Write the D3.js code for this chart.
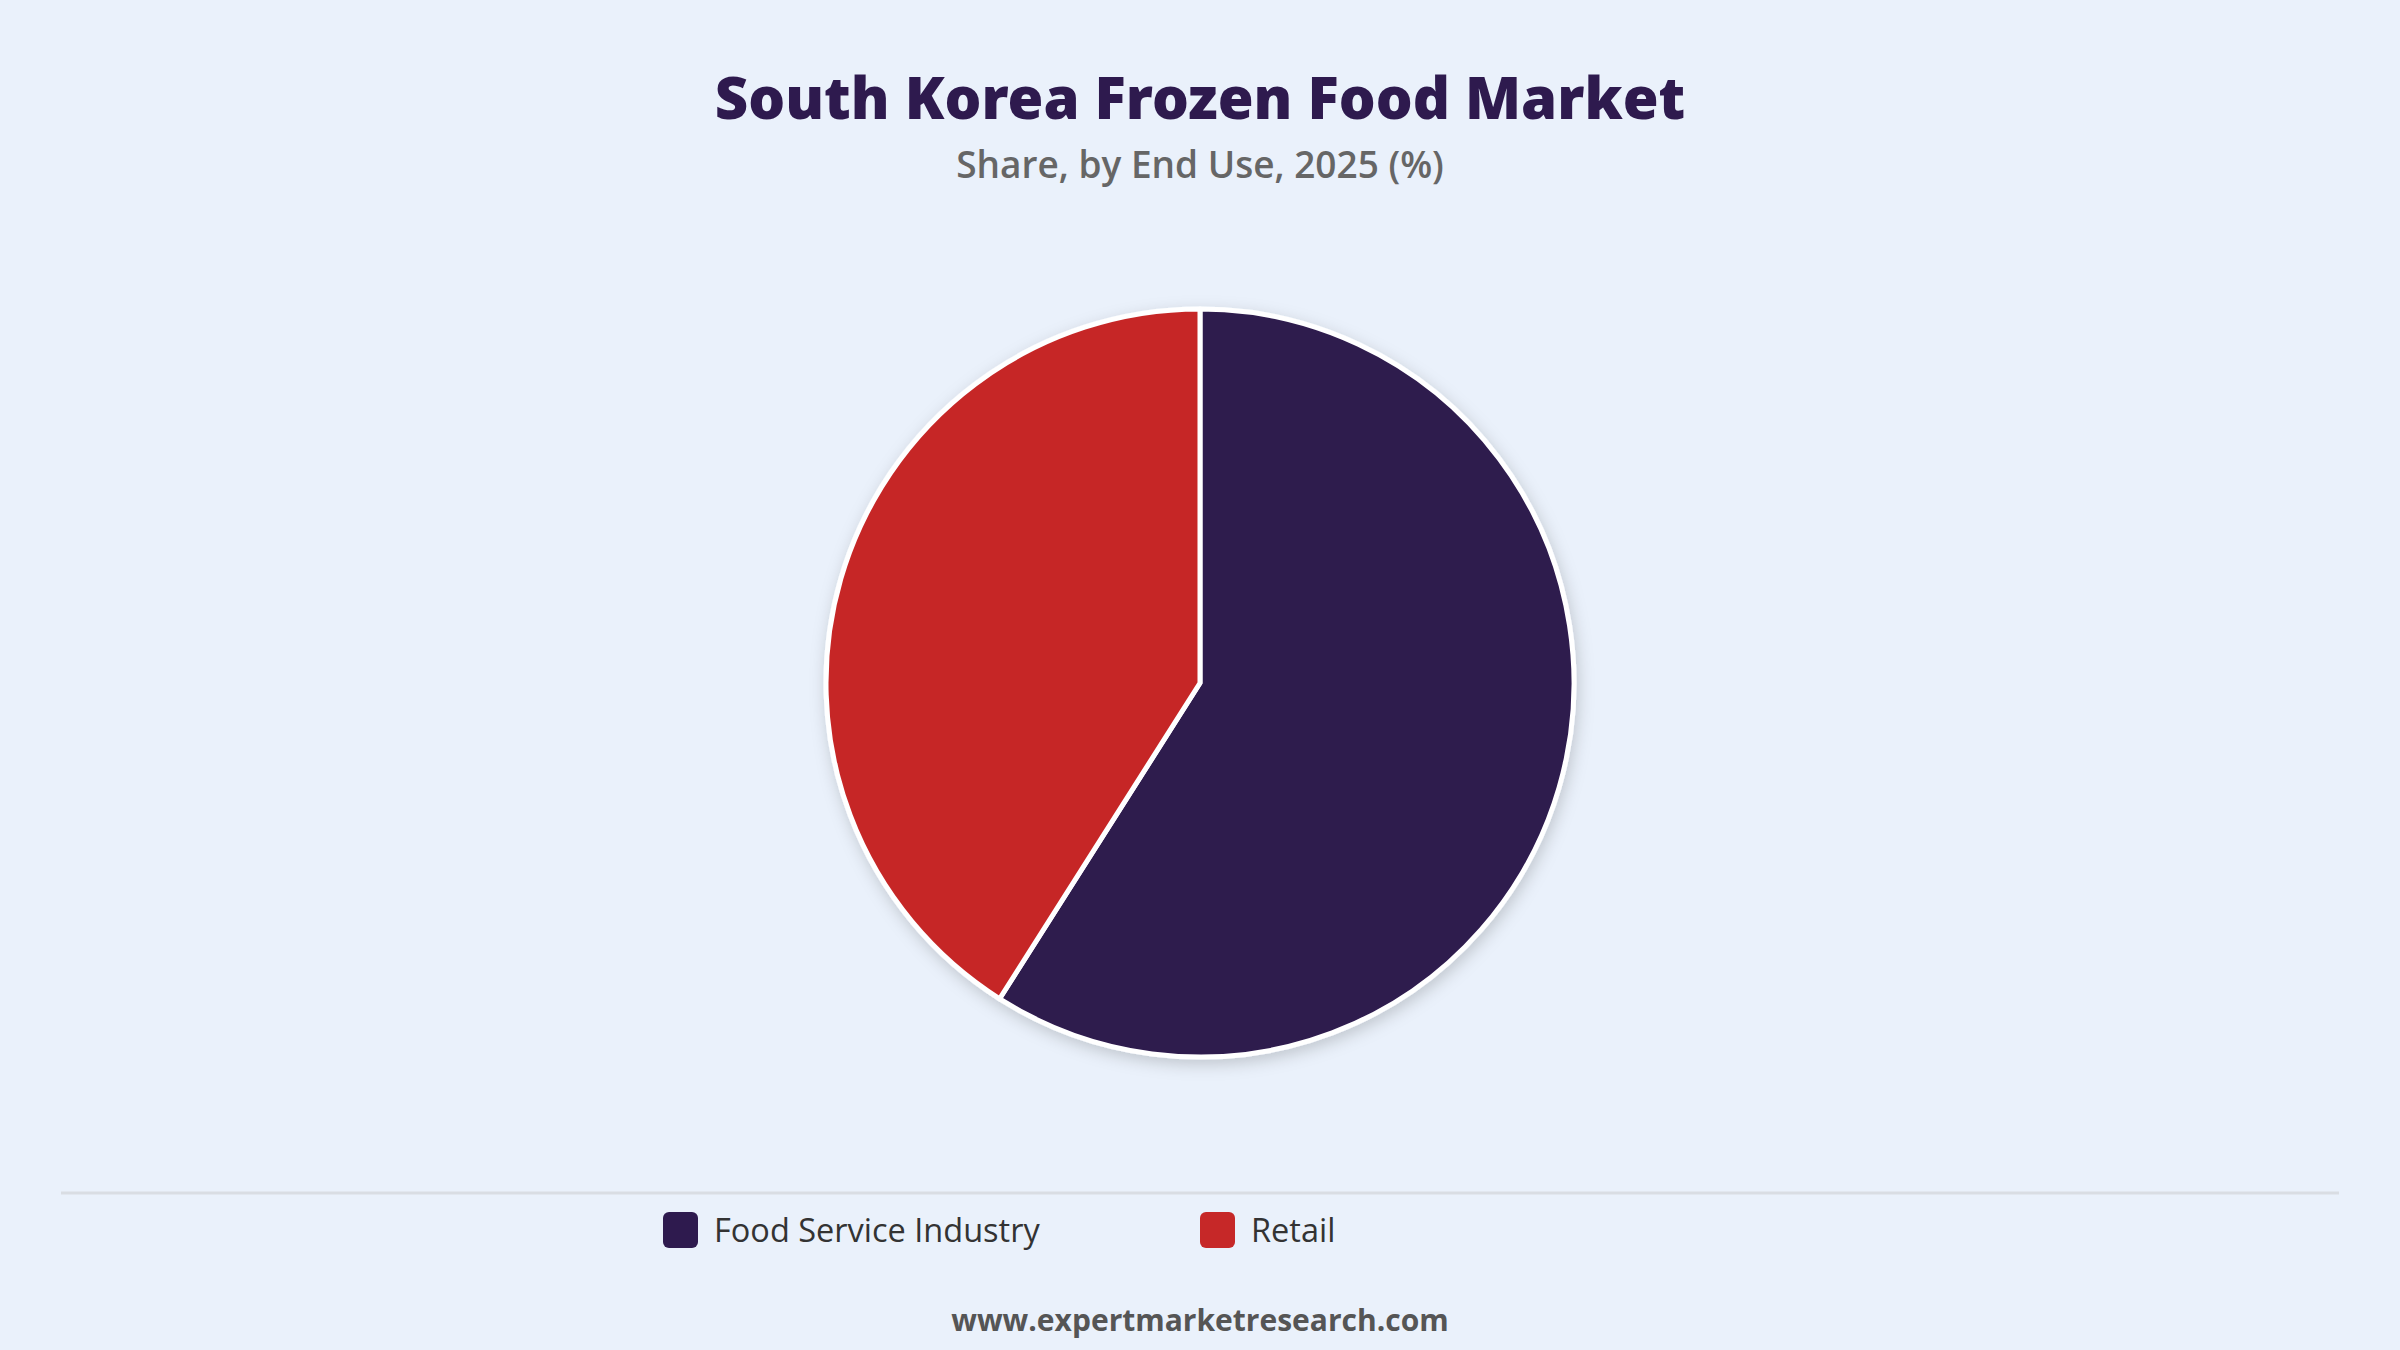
<!DOCTYPE html>
<html>
<head>
<meta charset="utf-8">
<script src="https://cdn.jsdelivr.net/npm/d3@7"></script>
<style>
  html, body { margin: 0; padding: 0; background: #eaf1fb; }
  svg { display: block; }
</style>
</head>
<body>
<div id="chart"></div>
<script>
// chart data
const categories = ['Food Service Industry', 'Retail'];
const shares = [59, 41];
const colours = ['#2e1a4e', '#c62828'];

const title = 'South Korea Frozen Food Market';
const subtitle = 'Share, by End Use, 2025 (%)';
const source = 'www.expertmarketresearch.com';

const width = 2400, height = 1350;

const svg = d3.select('#chart')
  .append('svg')
  .attr('width', width)
  .attr('height', height);

svg.append('rect')
  .attr('width', width)
  .attr('height', height)
  .attr('fill', '#eaf1fb');

// soft shadow under the pie
const defs = svg.append('defs');
defs.append('filter')
  .attr('id', 'pie-shadow')
  .attr('x', '-20%').attr('y', '-20%')
  .attr('width', '140%').attr('height', '140%')
  .append('feDropShadow')
  .attr('dx', 2)
  .attr('dy', 5)
  .attr('stdDeviation', 8)
  .attr('flood-color', '#000')
  .attr('flood-opacity', 0.18);

// titles
svg.append('text')
  .attr('x', width / 2)
  .attr('y', 119)
  .attr('text-anchor', 'middle')
  .style('font-family', '"Noto Sans", Lato, sans-serif')
  .style('font-weight', 900)
  .style('font-size', '58px')
  .style('fill', '#2e1a4e')
  .text(title);

svg.append('text')
  .attr('x', width / 2)
  .attr('y', 178)
  .attr('text-anchor', 'middle')
  .style('font-family', '"Open Sans", "Noto Sans", sans-serif')
  .style('font-weight', 600)
  .style('font-size', '37px')
  .style('fill', '#666666')
  .text(subtitle);

// pie
const cx = 1200, cy = 683, radius = 374;

const pie = d3.pie()
  .sort(null)
  .value(d => d);

const arc = d3.arc()
  .innerRadius(0)
  .outerRadius(radius);

const pieGroup = svg.append('g')
  .attr('transform', `translate(${cx},${cy})`)
  .attr('filter', 'url(#pie-shadow)');

pieGroup.selectAll('path')
  .data(pie(shares))
  .enter()
  .append('path')
  .attr('d', arc)
  .attr('fill', (d, i) => colours[i])
  .attr('stroke', '#ffffff')
  .attr('stroke-width', 5)
  .attr('stroke-linejoin', 'round');

// divider above legend
svg.append('line')
  .attr('x1', 61).attr('x2', 2339)
  .attr('y1', 1193).attr('y2', 1193)
  .attr('stroke', '#d9dde3')
  .attr('stroke-width', 3);

// legend
const legendX = [663, 1200];
const legend = svg.append('g');

const item = legend.selectAll('g')
  .data(categories)
  .enter()
  .append('g')
  .attr('transform', (d, i) => `translate(${legendX[i]},1212)`);

item.append('rect')
  .attr('width', 35)
  .attr('height', 36)
  .attr('rx', 6)
  .attr('fill', (d, i) => colours[i]);

item.append('text')
  .attr('x', 51)
  .attr('y', 30)
  .style('font-family', '"Open Sans", "Noto Sans", sans-serif')
  .style('font-size', '32.5px')
  .style('fill', '#333333')
  .text(d => d);

// source line
svg.append('text')
  .attr('x', width / 2)
  .attr('y', 1331)
  .attr('text-anchor', 'middle')
  .style('font-family', '"Open Sans", "Noto Sans", sans-serif')
  .style('font-weight', 700)
  .style('font-size', '30px')
  .style('fill', '#555555')
  .text(source);
</script>
</body>
</html>
